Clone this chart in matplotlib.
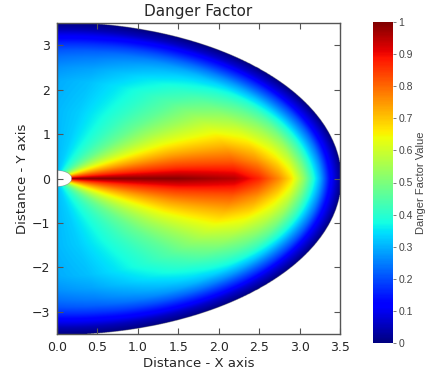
import numpy as np
import matplotlib
matplotlib.use("Agg")
import matplotlib.pyplot as plt

# angular part of the danger factor, degrees off the x axis
angle_deg = [0, 5, 10, 20, 30, 40, 50, 60, 70, 80, 90]
angle_factor = [1.0, 0.93, 0.86, 0.75, 0.65, 0.56, 0.48, 0.42, 0.37, 0.33, 0.31]

# radial part of the danger factor
radial_dist = [0.0, 1.5, 2.2, 2.5, 2.75, 2.9, 3.05, 3.18, 3.26, 3.36, 3.52]
radial_factor = [1.0, 0.99, 0.95, 0.87, 0.76, 0.67, 0.53, 0.38, 0.29, 0.15, 0.0]

r_min = 0.18
r_max = 3.52
x_ticks = [0.0, 0.5, 1.0, 1.5, 2.0, 2.5, 3.0, 3.5]
y_ticks = [-3, -2, -1, 0, 1, 2, 3]
cbar_ticks = [0, 0.1, 0.2, 0.3, 0.4, 0.5, 0.6, 0.7, 0.8, 0.9, 1]

txt = '#262626'

x = np.linspace(0, 3.5, 700)
y = np.linspace(-3.5, 3.5, 1400)
X, Y = np.meshgrid(x, y)
R = np.hypot(X, Y)
TH = np.abs(np.degrees(np.arctan2(Y, X)))
D = np.interp(TH, angle_deg, angle_factor) * np.interp(R, radial_dist, radial_factor)
D = np.ma.masked_where((R > r_max) | (R < r_min), D)

fig = plt.figure(figsize=(4.27, 3.77), dpi=100)
ax = fig.add_axes([57 / 427, 43 / 377, 283 / 427, 311 / 377])
im = ax.imshow(D, origin='lower', extent=[0, 3.5, -3.5, 3.5], aspect='auto',
               cmap='jet', vmin=0, vmax=1, interpolation='bilinear')
ax.set_xlim(0, 3.5)
ax.set_ylim(-3.5, 3.5)
ax.set_xticks(x_ticks)
ax.set_yticks(y_ticks)
ax.set_xticklabels([f"{v:.1f}" for v in x_ticks])
ax.tick_params(direction='in', top=True, right=True, length=4, width=0.8,
               labelsize=9, labelcolor=txt, color='#555555', pad=5)
for s in ax.spines.values():
    s.set_color('#555555')
    s.set_linewidth(1.0)
ax.set_title("Danger Factor", fontsize=11, color=txt, pad=5)
ax.set_xlabel("Distance - X axis", fontsize=9.5, color=txt, labelpad=2)
ax.set_ylabel("Distance - Y axis", fontsize=9.5, color=txt, labelpad=2)

cax = fig.add_axes([373 / 427, 34 / 377, 20 / 427, 321 / 377])
cb = fig.colorbar(im, cax=cax, ticks=cbar_ticks)
cb.outline.set_visible(False)
cb.ax.set_yticklabels([f"{v:g}" for v in cbar_ticks], family='Liberation Sans')
cb.ax.tick_params(length=2, width=0.6, labelsize=7.5, labelcolor='#444444',
                  color='#666666', pad=2)
cb.set_label("Danger Factor Value", fontsize=8, family='Liberation Sans',
             color='#444444', labelpad=2)

fig.savefig("out.png", dpi=100)
